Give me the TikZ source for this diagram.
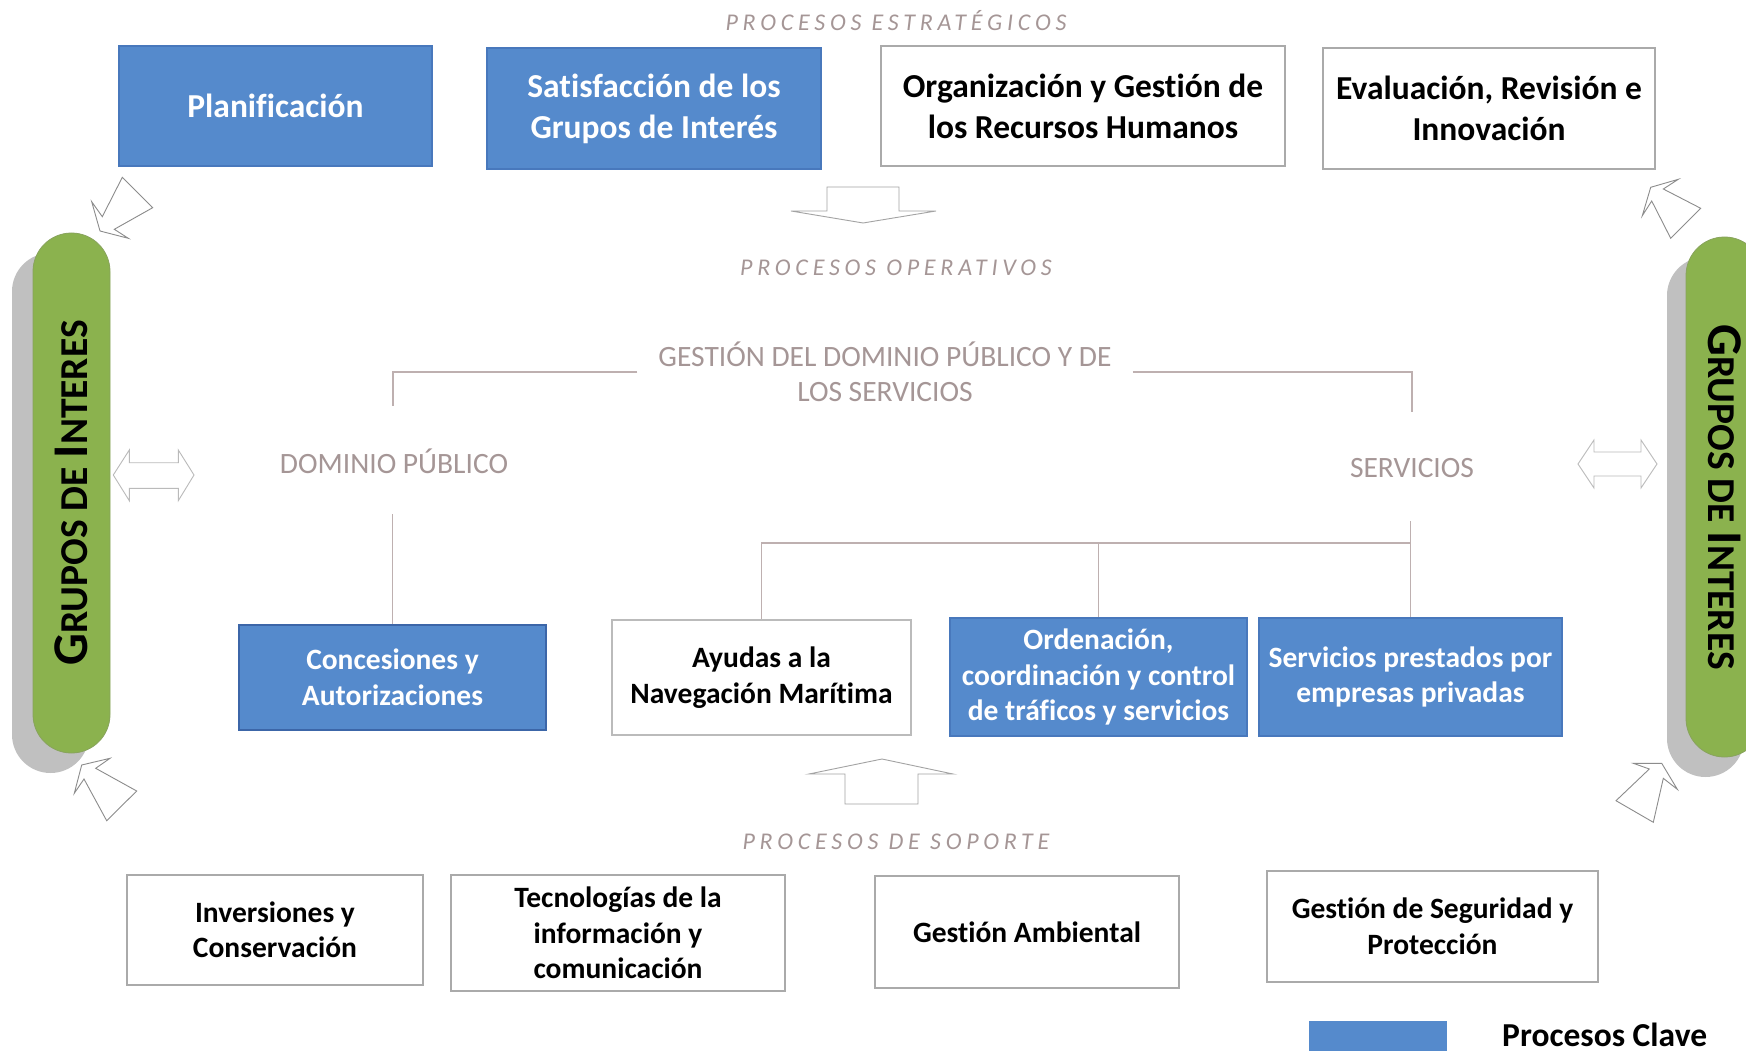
\documentclass[tikz,border=0pt]{standalone}
\usepackage{fontspec}
\setmainfont{Carlito}[Ligatures=NoCommon]
\usetikzlibrary{shapes.misc,calc}
\definecolor{kblue}{RGB}{85,138,204}
\definecolor{kblueb}{RGB}{72,120,188}
\definecolor{kblued}{RGB}{60,102,168}
\definecolor{boxgray}{RGB}{170,170,170}
\definecolor{kgreen}{RGB}{139,178,78}
\definecolor{kshadow}{RGB}{192,192,192}
\definecolor{graytext}{RGB}{165,150,150}
\definecolor{connline}{RGB}{190,176,176}
\definecolor{arrowgray}{RGB}{140,140,140}
\newcommand\gruposdi{\bfseries\fontsize{50}{50}\selectfont G\fontsize{39.5}{50}\selectfont RUPOS DE \fontsize{50}{50}\selectfont I\fontsize{39.5}{50}\selectfont NTERES}
\begin{document}
\begin{tikzpicture}[x=1pt,y=-1pt,
  base/.style={align=center, inner sep=0pt, font=\fontsize{29.5}{35.5}\selectfont\bfseries},
  bluebox/.style={base, draw=kblueb, fill=kblue, line width=1.5pt, text=white},
  whitebox/.style={base, draw=boxgray, fill=white, line width=1.2pt, text=black},
  bigtext/.style={font=\fontsize{33.5}{41}\selectfont\bfseries},
  sectitle/.style={text=graytext, inner sep=0pt, font=\fontsize{24}{24}\selectfont\itshape\addfontfeature{LetterSpace=20}},
  grouptitle/.style={text=graytext, align=center, font=\fontsize{29.5}{35}\selectfont},
  conn/.style={draw=connline, line width=1.2pt},
  blockarrow/.style={draw=arrowgray, fill=white, line width=0.9pt, line join=miter},
  pill/.style={rounded rectangle, minimum width=520pt, minimum height=77pt, inner sep=0pt},
  pillgreen/.style={pill, fill=kgreen, draw=kgreen!70!gray, line width=0.8pt, text=black},
  pillshadow/.style={pill, fill=kshadow, draw=none}
]
\useasboundingbox (0,0) rectangle (1746,1051);
\clip (0,0) rectangle (1746,1051);
\fill[white] (0,0) rectangle (1746,1051);

% side pills
\node[pillshadow, rotate=90] (gls) at (50.5,513) {};
\node[pillgreen, rotate=90] (gl) at (71.5,493) {\gruposdi};
\node[pillshadow, rotate=-90] (grs) at (1705.5,517) {};
\node[pillgreen, rotate=-90] (gr) at (1724.5,497) {\gruposdi};

% section titles
\node[sectitle] (estr) at (896,21) {PROCESOS ESTRATÉGICOS};
\node[sectitle] (oper) at (896,268) {PROCESOS OPERATIVOS};
\node[sectitle] (sopo) at (896,842) {PROCESOS DE SOPORTE};

% strategic boxes
\node[bluebox, bigtext, minimum width=313pt, minimum height=120pt] (plan) at (275.5,106) {Planificación};
\node[bluebox, bigtext, minimum width=334pt, minimum height=121pt] (satis) at (654,108.5) {Satisfacción de los\\Grupos de Interés};
\node[whitebox, bigtext, minimum width=404pt, minimum height=120pt] (organ) at (1083,106) {Organización y Gestión de\\los Recursos Humanos};
\node[whitebox, bigtext, minimum width=332pt, minimum height=121pt] (eval) at (1489,108.5) {Evaluación, Revisión e\\Innovación};

% group titles
\node[grouptitle, inner xsep=21pt, inner ysep=0pt] (gestion) at (885,372) {GESTIÓN DEL DOMINIO PÚBLICO Y DE\\LOS SERVICIOS};
\node[grouptitle] (dominio) at (394,461) {DOMINIO PÚBLICO};
\node[grouptitle] (servicios) at (1412,468) {SERVICIOS};

% operative boxes
\node[bluebox, draw=kblued, line width=2.5pt, minimum width=307pt, minimum height=105pt] (conces) at (392.5,677.5) {Concesiones y\\Autorizaciones};
\node[whitebox, draw=boxgray!80, line width=2pt, minimum width=299pt, minimum height=115pt] (ayudas) at (761.5,677.5) {Ayudas a la\\Navegación Marítima};
\node[bluebox, minimum width=297pt, minimum height=118pt] (orden) at (1098.5,677) {Ordenación,\\coordinación y control\\de tráficos y servicios};
\node[bluebox, minimum width=303pt, minimum height=118pt] (servp) at (1410.5,677) {Servicios prestados por\\empresas privadas};

% support boxes
\node[whitebox, minimum width=296pt, minimum height=110pt] (inver) at (275,930) {Inversiones y\\Conservación};
\node[whitebox, minimum width=334pt, minimum height=116pt] (tecno) at (618,933) {Tecnologías de la\\información y\\comunicación};
\node[whitebox, minimum width=304pt, minimum height=112pt] (gamb) at (1027,932) {Gestión Ambiental};
\node[whitebox, minimum width=331pt, minimum height=111pt] (gseg) at (1432.5,926.5) {Gestión de Seguridad y\\Protección};

% connectors
\coordinate (domtop) at (393,406);
\coordinate (sertop) at (1412,412);
\coordinate (dombot) at (392.5,514);
\coordinate (serbot) at (1410.5,521);
\coordinate (serjoin) at (1410.5,543);
\draw[conn] (gestion.west) -| (domtop);
\draw[conn] (gestion.east) -| (sertop);
\draw[conn] (dombot) -- (conces.north);
\draw[conn] (serbot) -- (servp.north);
\draw[conn] (serjoin) -| (ayudas.north);
\draw[conn] (orden.north |- serjoin) -- (orden.north);

% block arrows
\draw[blockarrow, draw=arrowgray!80] (827,187) -- (899,187) -- (899,211) -- (936,211) -- (863,223) -- (791,211) -- (827,211) -- cycle;
\draw[blockarrow, draw=arrowgray!80] (882,759) -- (953,774) -- (918,774) -- (918,804) -- (845,804) -- (845,774) -- (809,774) -- cycle;
\draw[blockarrow] (100,231) -- (91.7,201.7) -- (102.3,216.7) -- (122.3,177.3) -- (152.7,207.7) -- (114.3,229.3) -- (128.3,238.3) -- cycle;
\draw[blockarrow] (1650.7,187.3) -- (1678.3,179.3) -- (1663.3,189) -- (1700.7,208.3) -- (1670.7,238.3) -- (1651.7,201) -- (1642.3,215.7) -- cycle;
\draw[blockarrow] (81.7,765) -- (110,758.3) -- (95.7,768.3) -- (136.7,791) -- (106.7,820.7) -- (84,779) -- (74.3,793.3) -- cycle;
\draw[blockarrow] (1661.7,763.3) -- (1677.3,789.3) -- (1663.3,778.3) -- (1653.3,822.3) -- (1616,800.7) -- (1649.3,769) -- (1633.3,763.3) -- cycle;
\draw[blockarrow, draw=arrowgray!60] (113.3,475) -- (129.3,450) -- (129.3,462.7) -- (178.3,462.7) -- (178.3,450) -- (194,475) -- (178.3,500.7) -- (178.3,488.3) -- (129.3,488.3) -- (129.3,500.7) -- cycle;
\draw[blockarrow, draw=arrowgray!60] (1578,464) -- (1594,440) -- (1594,452) -- (1641,452) -- (1641,440) -- (1657,464) -- (1641,488) -- (1641,476) -- (1594,476) -- (1594,488) -- cycle;

% legend
\node[fill=kblue, minimum width=138pt, minimum height=40pt, inner sep=0pt, anchor=north west] (legbox) at (1309,1021) {};
\node[anchor=west, inner sep=0pt, font=\fontsize{33.5}{40}\selectfont\bfseries] (legtext) at (1502,1035) {Procesos Clave};
\end{tikzpicture}
\end{document}
